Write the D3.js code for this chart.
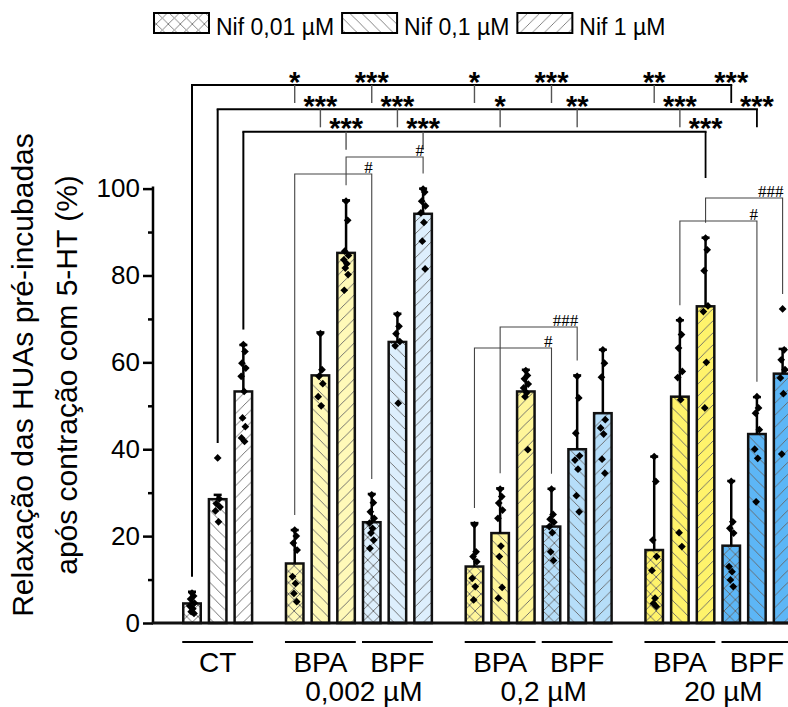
<!DOCTYPE html>
<html>
<head>
<meta charset="utf-8">
<script src="https://cdn.jsdelivr.net/npm/d3@7"></script>
<style>
  html, body { margin: 0; padding: 0; background: #fff; overflow: hidden; }
  svg { display: block; font-family: "Liberation Sans", Arial, sans-serif; }
</style>
</head>
<body>
<svg id="chart" width="788" height="707"></svg>
<script>
// ---- data ----
const groupNames = ["CT", "BPA", "BPF", "BPA", "BPF", "BPA", "BPF"];
const concLabels = ["0,002 µM", "0,2 µM", "20 µM"];
const nifLabels = ["Nif 0,01 µM", "Nif 0,1 µM", "Nif 1 µM"];
const yTicks = [0, 20, 40, 60, 80, 100];
const yMinorTicks = [10, 30, 50, 70, 90];

// mean relaxation (%) per group: [Nif 0,01, Nif 0,1, Nif 1]
const means = [
  [4.5, 28.5, 53.3],
  [13.7, 57.0, 85.2],
  [23.2, 64.7, 94.2],
  [13.0, 20.7, 53.3],
  [22.2, 40.0, 48.3],
  [16.8, 52.1, 72.9],
  [17.8, 43.5, 57.4]
];
const sds = [
  [2.7, 1.0, 10.7],
  [7.7, 9.9, 12.1],
  [6.5, 6.5, 5.8],
  [10.0, 10.3, 5.0],
  [8.7, 17.0, 14.6],
  [21.5, 17.6, 15.8],
  [14.9, 8.5, 5.7]
];
// individual experiments
const points = [
  [[6.9, 6.2, 5.5, 4.6, 3.9, 3.3, 2.6, 2.2],
   [38.0, 28.6, 27.5, 26.7, 25.8, 23.3],
   [64.1, 62.5, 59.8, 58.7, 56.8, 53.3, 47.2, 45.2, 42.6, 41.8]],
  [[21.4, 20.0, 18.4, 16.8, 10.7, 9.1, 6.8, 4.9],
   [66.6, 58.3, 56.8, 55.1, 52.1, 50.0],
   [97.1, 92.7, 85.6, 84.6, 83.6, 82.7, 81.7, 80.2, 76.6]],
  [[29.5, 27.7, 25.6, 24.1, 23.0, 21.8, 20.7, 19.1, 17.2],
   [71.0, 68.3, 66.6, 64.8, 63.8, 50.6],
   [99.9, 99.2, 97.1, 96.0, 94.4, 92.2, 87.9, 81.5]],
  [[22.6, 16.4, 15.3, 14.1, 10.3, 8.4, 5.3],
   [30.8, 29.1, 27.6, 26.0, 24.1, 17.7, 15.3, 8.2, 5.7],
   [58.1, 57.0, 56.2, 55.0, 54.1, 53.0, 52.1, 39.9]],
  [[30.8, 25.0, 23.9, 23.2, 22.2, 20.8, 16.4, 14.4],
   [56.8, 51.8, 43.7, 38.5, 37.5, 35.4, 29.3, 25.6],
   [62.9, 59.8, 56.6, 46.8, 44.9, 43.5, 37.7, 34.5]],
  [[38.3, 32.6, 19.1, 15.3, 12.1, 5.7, 4.5, 3.8],
   [69.7, 66.4, 63.3, 57.9, 56.5, 51.4, 20.8, 17.6],
   [88.6, 85.9, 81.1, 73.0, 71.7, 60.0, 49.5]],
  [[32.6, 23.3, 21.8, 20.7, 13.0, 11.8, 9.9, 8.4],
   [52.1, 49.5, 48.3, 44.5, 40.0, 37.9, 27.9],
   [72.3, 62.9, 60.6, 58.3, 56.4, 52.8, 38.9]]
];

// comparisons against CT (one row per Nif concentration), targets are [group, nif]
const ctRows = [
  { nif: 0, targets: [[1,0],[2,0],[3,0],[4,0],[5,0],[6,0]], labels: ["*","***","*","***","**","***"] },
  { nif: 1, targets: [[1,1],[2,1],[3,1],[4,1],[5,1],[6,1]], labels: ["***","***","*","**","***","***"] },
  { nif: 2, targets: [[1,2],[2,2],[5,2]], labels: ["***","***","***"] }
];
// BPA vs BPF comparisons
const hashPairs = [
  { a: [1,2], b: [2,2], label: "#" },
  { a: [1,0], b: [2,0], label: "#" },
  { a: [3,0], b: [4,0], label: "#" },
  { a: [3,1], b: [4,1], label: "###" },
  { a: [5,1], b: [6,1], label: "#" },
  { a: [5,2], b: [6,2], label: "###" }
];

// ---- layout ----
const groupStart = [0, 4, 7, 11, 14, 18, 21];
const fills = ["#ffffff", "#fff9b8", "#ddeffd", "#fff69a", "#b6def9", "#fff36b", "#5db6f6"];
const hatchKinds = ["cross", "back", "fwd"];
const barW = 17.5;
const rowLineY = [85, 109.3, 131.7];
const dropLen = 18;
const lastDropEnd = [null, null, 178];
const hashLineY = [157, 174, 348, 327, 221, 198];
const gap = 15;

const svg = d3.select("#chart");
const defs = svg.append("defs");

const x = d3.scaleLinear().domain([0, 23]).range([192, 782.6]);
const y = d3.scaleLinear().domain([0, 100]).range([623, 188.6]);

// hatch patterns
function makePattern(id, bg, kind, spacing, stroke) {
  const s = spacing * Math.SQRT2;
  const p = defs.append("pattern")
    .attr("id", id)
    .attr("patternUnits", "userSpaceOnUse")
    .attr("width", s)
    .attr("height", s);
  p.append("rect").attr("width", s).attr("height", s).attr("fill", bg);
  const lines = [];
  if (kind === "fwd" || kind === "cross") {
    lines.push([0, s, s, 0], [-s, s, s, -s], [0, 2 * s, 2 * s, 0]);
  }
  if (kind === "back" || kind === "cross") {
    lines.push([0, 0, s, s], [-s, 0, s, 2 * s], [0, -s, 2 * s, s]);
  }
  lines.forEach(l => p.append("line")
    .attr("x1", l[0]).attr("y1", l[1]).attr("x2", l[2]).attr("y2", l[3])
    .attr("stroke", stroke).attr("stroke-width", 0.9));
}
fills.forEach((f, gi) => hatchKinds.forEach((k, ni) =>
  makePattern(`h${gi}_${ni}`, f, k, ni === 0 ? 8 : 8.5, "#666")));
hatchKinds.forEach((k, ni) => makePattern(`leg${ni}`, "#fff", k, 8.5, "#777"));

const slot = (g, n) => groupStart[g] + n;
const topOf = (g, n) => Math.max(means[g][n] + sds[g][n], d3.max(points[g][n]));

// ---- axes ----
const yAxisMajor = d3.axisLeft(y).tickValues(yTicks).tickSize(10).tickPadding(3).tickFormat(d3.format("d"));
const yAxisMinor = d3.axisLeft(y).tickValues(yMinorTicks).tickSize(5).tickFormat("");
const ax = svg.append("g").attr("transform", "translate(153,0)");
ax.call(yAxisMajor);
ax.append("g").call(yAxisMinor);
ax.selectAll(".domain").remove();
ax.selectAll("line").attr("stroke", "#000").attr("stroke-width", 2.5);
ax.selectAll("text").attr("font-size", 26).attr("fill", "#000")
  .attr("font-family", "Liberation Sans, Arial, sans-serif");
svg.append("line").attr("x1", 153).attr("x2", 153).attr("y1", y(100) - 2).attr("y2", y(0))
  .attr("stroke", "#000").attr("stroke-width", 2.5);

// ---- bars ----
const cells = [];
means.forEach((row, g) => row.forEach((m, n) => cells.push({ g, n, m, sd: sds[g][n], pts: points[g][n] })));

const barG = svg.append("g");
barG.selectAll("rect").data(cells).join("rect")
  .attr("x", d => x(slot(d.g, d.n)) - barW / 2)
  .attr("y", d => y(d.m))
  .attr("width", barW)
  .attr("height", d => y(0) - y(d.m))
  .attr("fill", d => `url(#h${d.g}_${d.n})`)
  .attr("stroke", "#111")
  .attr("stroke-width", 2.5);

// x axis baseline
svg.append("line").attr("x1", 151.8).attr("x2", 790).attr("y1", y(0)).attr("y2", y(0))
  .attr("stroke", "#111").attr("stroke-width", 3);

// error bars (upper)
const errG = svg.append("g").attr("stroke", "#000").attr("stroke-width", 2.5);
cells.forEach(d => {
  const cx = x(slot(d.g, d.n));
  errG.append("line").attr("x1", cx).attr("x2", cx).attr("y1", y(d.m)).attr("y2", y(d.m + d.sd));
  errG.append("line").attr("x1", cx - 4).attr("x2", cx + 4).attr("y1", y(d.m + d.sd)).attr("y2", y(d.m + d.sd));
});

// individual points
const jitter = [0, 1.6, -1.4, 2.4, -2.2, 0.8, -0.8, 2.0, -1.8, 1.2];
const diamond = d3.symbol(d3.symbolSquare, 30);
const ptG = svg.append("g");
cells.forEach(d => {
  d.pts.forEach((v, i) => {
    ptG.append("path").attr("d", diamond)
      .attr("transform", `translate(${x(slot(d.g, d.n)) + jitter[i % jitter.length]},${y(v)}) rotate(45)`)
      .attr("fill", "#000");
  });
});

// ---- comparisons vs CT ----
const sigG = svg.append("g");
ctRows.forEach((row, r) => {
  const ly = rowLineY[r];
  const x0 = x(slot(0, row.nif));
  const last = row.targets[row.targets.length - 1];
  const x1 = x(slot(last[0], last[1]));
  sigG.append("line").attr("x1", x0 - 1).attr("x2", x1 + 1).attr("y1", ly).attr("y2", ly)
    .attr("stroke", "#000").attr("stroke-width", 2);
  sigG.append("line").attr("x1", x0).attr("x2", x0).attr("y1", ly).attr("y2", y(topOf(0, row.nif)) - gap)
    .attr("stroke", "#000").attr("stroke-width", 2);
  row.targets.forEach((t, i) => {
    const tx = x(slot(t[0], t[1]));
    const isLast = i === row.targets.length - 1;
    const end = isLast && lastDropEnd[r] ? lastDropEnd[r] : ly + dropLen;
    sigG.append("line").attr("x1", tx).attr("x2", tx).attr("y1", ly).attr("y2", end)
      .attr("stroke", isLast ? "#000" : "#555").attr("stroke-width", isLast ? 1.8 : 1.4);
    sigG.append("text").attr("x", tx).attr("y", ly + 6.5)
      .attr("text-anchor", "middle").attr("font-size", 29).attr("font-weight", "bold")
      .attr("fill", "#000").text(row.labels[i]);
  });
});

// ---- BPA vs BPF ----
const hashG = svg.append("g");
hashPairs.forEach((p, i) => {
  const ly = hashLineY[i];
  const xa = x(slot(p.a[0], p.a[1]));
  const xb = x(slot(p.b[0], p.b[1]));
  const ya = y(topOf(p.a[0], p.a[1])) - gap;
  const yb = y(topOf(p.b[0], p.b[1])) - gap;
  hashG.append("path")
    .attr("d", `M${xa},${ya}V${ly}H${xb}V${yb}`)
    .attr("fill", "none").attr("stroke", "#444").attr("stroke-width", 1.1);
  hashG.append("text").attr("x", xb + 1).attr("y", ly - 1.5)
    .attr("text-anchor", "end").attr("font-size", 17)
    .attr("font-family", "Liberation Serif, 'Times New Roman', serif")
    .attr("fill", "#000").text(p.label);
});

// ---- group labels ----
const labG = svg.append("g");
groupNames.forEach((name, g) => {
  const xl = x(groupStart[g]) - barW / 2 - 1;
  const xr = x(groupStart[g] + 2) + barW / 2 + 1;
  labG.append("line").attr("x1", xl).attr("x2", xr).attr("y1", 642).attr("y2", 642)
    .attr("stroke", "#000").attr("stroke-width", 2);
  labG.append("text").attr("x", x(groupStart[g] + 1)).attr("y", 672)
    .attr("text-anchor", "middle").attr("font-size", 28).attr("fill", "#000").text(name);
});
concLabels.forEach((c, i) => {
  const gA = 1 + i * 2, gB = 2 + i * 2;
  const cx = (x(groupStart[gA] + 1) + x(groupStart[gB] + 1)) / 2 + 5;
  labG.append("text").attr("x", cx).attr("y", 701)
    .attr("text-anchor", "middle").attr("font-size", 28).attr("fill", "#000").text(c);
});

// ---- y title ----
const title = svg.append("text")
  .attr("transform", "translate(0,375) rotate(-90)")
  .attr("text-anchor", "middle").attr("font-size", 30).attr("fill", "#000");
title.append("tspan").attr("x", 0).attr("y", 33).text("Relaxação das HUAs pré-incubadas");
title.append("tspan").attr("x", 0).attr("y", 77).text("após contração com 5-HT (%)");

// ---- legend ----
const legG = svg.append("g");
let lx = 154;
nifLabels.forEach((lab, i) => {
  legG.append("rect").attr("x", lx).attr("y", 13).attr("width", 55).attr("height", 20)
    .attr("fill", `url(#leg${i})`).attr("stroke", "#000").attr("stroke-width", 2);
  const t = legG.append("text").attr("x", lx + 62).attr("y", 35)
    .attr("font-size", 23).attr("fill", "#000").text(lab);
  lx += 62 + t.node().getComputedTextLength() + 8;
});
</script>
</body>
</html>
